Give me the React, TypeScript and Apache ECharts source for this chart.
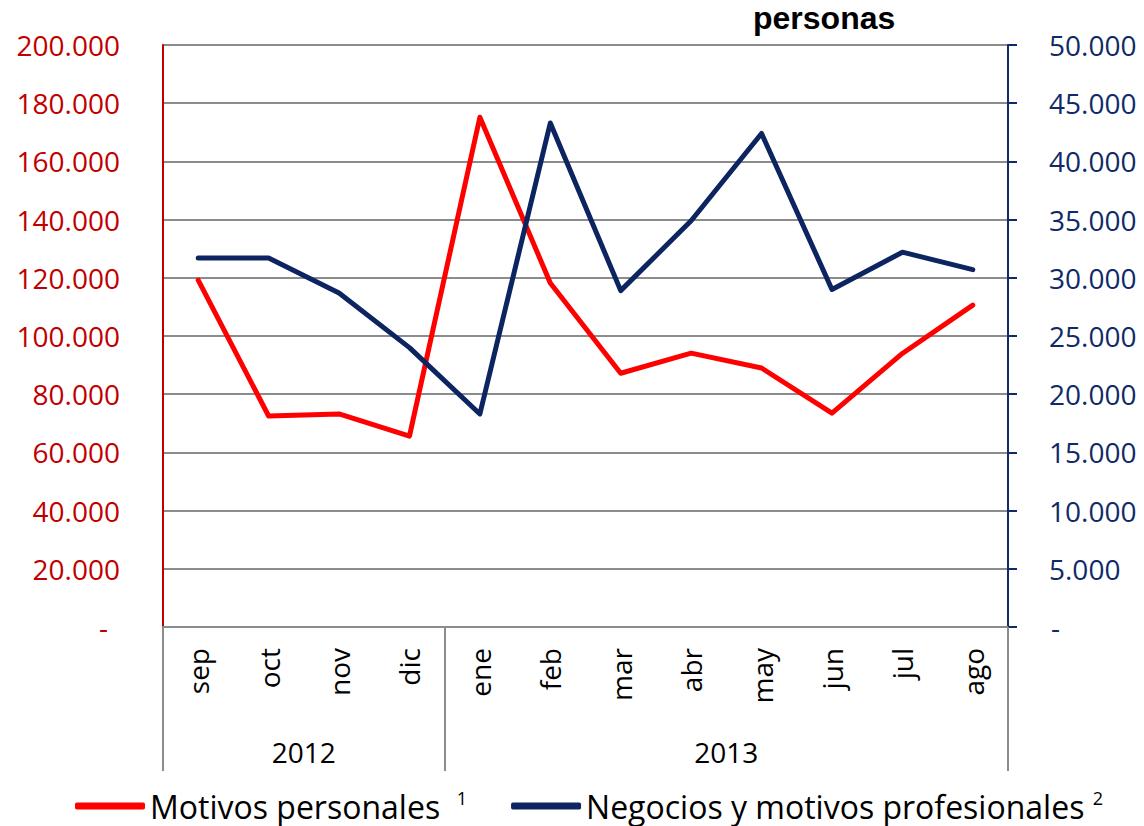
import React, { useEffect, useRef } from "react";
import * as echarts from "echarts";

const months = ["sep", "oct", "nov", "dic", "ene", "feb", "mar", "abr", "may", "jun", "jul", "ago"];
const yearLabels = ["2012", "2013"];
const yearCenters = [2, 8];
const yearBoundaries = [0, 4, 12];
const personales = [119200, 72500, 73200, 65600, 175200, 118200, 87200, 94100, 89000, 73500, 94000, 110600];
const negocios = [31700, 31700, 28700, 24000, 18300, 43300, 28900, 34900, 42400, 29000, 32200, 30700];
const seriesNames = ["Motivos personales", "Negocios y motivos profesionales"];
const footnotes = ["1", "2"];

const RED = "#ff0000";
const RED_AXIS = "#c00000";
const NAVY = "#0c2560";
const NAVY_AXIS = "#0f2a68";
const GRAY = "#8c8c8c";
const FONT = "'Open Sans', sans-serif";

const fmt = (v: number) => String(Math.round(v)).replace(/\B(?=(\d{3})+(?!\d))/g, ".");

export default function App() {
  const ref = useRef<HTMLDivElement>(null);
  useEffect(() => {
    if (!ref.current) return;
    const chart = echarts.init(ref.current, null, { renderer: "svg" });
    chart.setOption({
      animation: false,
      backgroundColor: "#ffffff",
      title: {
        text: "personas",
        left: 748,
        top: -3,
        textStyle: { fontFamily: "'Liberation Sans', Arial, sans-serif", fontWeight: "bold", fontSize: 32, color: "#000" },
      },
      grid: { left: 163, right: 136, top: 45, bottom: 199, containLabel: false },
      legend: {
        left: 70,
        top: 784,
        itemWidth: 70,
        itemHeight: 7,
        itemGap: 44,
        icon: "roundRect",
        textStyle: {
          fontFamily: FONT,
          fontSize: 32,
          color: "#000",
          rich: {
            n: { fontFamily: FONT, fontSize: 32, color: "#000" },
            s: { fontFamily: FONT, fontSize: 18, color: "#000", verticalAlign: "top", padding: [0, 0, 16, 0] },
          },
        },
        formatter: (name: string) => {
          const i = seriesNames.indexOf(name);
          return i === 0 ? `{n|${name}}  {s|${footnotes[i]}}` : `{n|${name}} {s|${footnotes[i]}}`;
        },
        data: seriesNames,
      },
      xAxis: [
        {
          type: "category",
          data: months,
          boundaryGap: true,
          position: "bottom",
          axisLine: { show: true, lineStyle: { color: GRAY, width: 2 } },
          axisTick: { show: false },
          axisLabel: {
            rotate: 90,
            margin: 21,
            fontFamily: FONT,
            fontSize: 28,
            color: "#000",
          },
          splitLine: { show: false },
        },
        {
          type: "value",
          min: 0,
          max: 12,
          position: "bottom",
          axisLine: { show: false },
          axisTick: {
            show: true,
            customValues: yearBoundaries,
            length: 144,
            lineStyle: { color: GRAY, width: 2 },
          },
          axisLabel: {
            customValues: yearCenters,
            formatter: (v: number) => yearLabels[yearCenters.indexOf(v)] ?? "",
            margin: 111,
            fontFamily: FONT,
            fontSize: 28,
            color: "#000",
          },
          splitLine: { show: false },
        },
      ],
      yAxis: [
        {
          type: "value",
          min: 0,
          max: 200000,
          interval: 20000,
          position: "left",
          axisLine: { show: true, lineStyle: { color: RED_AXIS, width: 2 } },
          axisTick: { show: false },
          axisLabel: {
            margin: 43,
            fontFamily: FONT,
            fontSize: 28,
            color: RED_AXIS,
            formatter: (v: number) => (v === 0 ? "{d|-}" : fmt(v)),
            rich: { d: { fontFamily: FONT, fontSize: 28, color: RED_AXIS, padding: [0, 12, 0, 0] } },
          },
          splitLine: { show: true, lineStyle: { color: GRAY, width: 2 } },
        },
        {
          type: "value",
          min: 0,
          max: 50000,
          interval: 5000,
          position: "right",
          axisLine: { show: true, lineStyle: { color: NAVY_AXIS, width: 2 } },
          axisTick: { show: true, length: 9, lineStyle: { color: NAVY_AXIS, width: 2 } },
          axisLabel: {
            margin: 41,
            fontFamily: FONT,
            fontSize: 28,
            color: NAVY_AXIS,
            formatter: (v: number) => (v === 0 ? "{d|-}" : fmt(v)),
            rich: { d: { fontFamily: FONT, fontSize: 28, color: NAVY_AXIS, padding: [0, 0, 0, 2] } },
          },
          splitLine: { show: false },
        },
      ],
      series: [
        {
          name: seriesNames[0],
          type: "line",
          xAxisIndex: 0,
          yAxisIndex: 0,
          data: personales,
          symbol: "none",
          color: RED,
          lineStyle: { color: RED, width: 5, cap: "round", join: "round" },
          z: 3,
        },
        {
          name: seriesNames[1],
          type: "line",
          xAxisIndex: 0,
          yAxisIndex: 1,
          data: negocios,
          symbol: "none",
          color: NAVY,
          lineStyle: { color: NAVY, width: 5, cap: "round", join: "round" },
          z: 4,
        },
      ],
    });
    return () => chart.dispose();
  }, []);
  return <div ref={ref} style={{ width: 1144, height: 826, position: "absolute", left: 0, top: 0 }} />;
}
